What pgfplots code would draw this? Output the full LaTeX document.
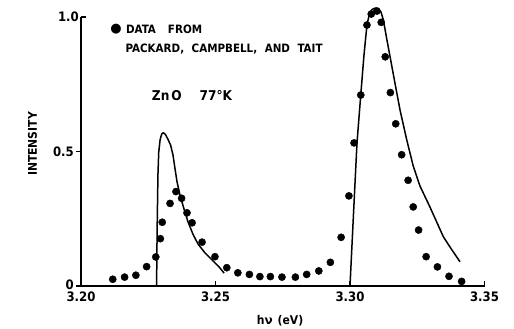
\documentclass[border=0pt]{standalone}
\usepackage{fontspec}
\setmainfont{DejaVu Sans Condensed}
\newfontfamily\symfont{DejaVu Sans}
\usepackage{pgfplots}
\pgfplotsset{compat=1.18}
\begin{document}
\begin{tikzpicture}
\useasboundingbox (0pt,0pt) rectangle (514pt,329pt);
\begin{axis}[
  at={(81pt,43pt)}, anchor=south west,
  scale only axis, width=403.5pt, height=269pt,
  xmin=3.20, xmax=3.35, ymin=0, ymax=1,
  axis lines*=left,
  axis line style={line width=1.3pt},
  xtick={3.20,3.25,3.30,3.35}, xticklabels={3.20,3.25,3.30,3.35},
  ytick={0,0.5}, yticklabels={{\raisebox{3pt}{0}},0.5},
  extra y ticks={1}, extra y tick labels={1.0},
  extra y tick style={ytick align=inside},
  ytick align=outside, xtick align=inside,
  tick style={line width=1.3pt, black},
  major tick length=5pt,
  ticklabel style={font=\bfseries\fontsize{13}{15}\selectfont},
  xticklabel style={inner sep=2pt, yshift=-4pt},
  yticklabel style={inner sep=2pt},
  clip=false,
]
\addplot[only marks, mark=*, mark size=3.6pt, black] coordinates {
(3.2118,0.025) (3.2162,0.033) (3.2204,0.040) (3.2244,0.072) (3.2278,0.108)
(3.2295,0.176) (3.2302,0.237) (3.2331,0.307) (3.2353,0.351) (3.2374,0.326)
(3.2394,0.272) (3.2413,0.235) (3.2450,0.163) (3.2498,0.109) (3.2542,0.068)
(3.2583,0.049) (3.2626,0.043) (3.2665,0.035) (3.2704,0.035) (3.2747,0.033)
(3.2797,0.033) (3.2839,0.043) (3.2884,0.056) (3.2927,0.088) (3.2967,0.181)
(3.2996,0.335) (3.3015,0.532) (3.3040,0.710) (3.3063,0.970) (3.3079,1.011)
(3.3100,1.022) (3.3116,0.980) (3.3131,0.852) (3.3150,0.719) (3.3170,0.603)
(3.3192,0.488) (3.3216,0.393) (3.3235,0.294) (3.3255,0.208) (3.3283,0.109)
(3.3325,0.071) (3.3368,0.036) (3.3415,0.017)
};
\addplot[black, line width=1.5pt, line join=round] coordinates {
(3.2281,0) (3.2283,0.208) (3.2286,0.413) (3.2289,0.498) (3.2294,0.543)
(3.2300,0.565) (3.2306,0.570) (3.2314,0.563) (3.2323,0.546) (3.2333,0.524)
(3.2342,0.487) (3.2349,0.439) (3.2357,0.387) (3.2368,0.338) (3.2383,0.286)
(3.2398,0.238) (3.2416,0.193) (3.2435,0.156) (3.2461,0.123) (3.2491,0.093)
(3.2513,0.071) (3.2532,0.048)
};
\addplot[black, line width=1.5pt, line join=round] coordinates {
(3.3000,0) (3.3013,0.268) (3.3026,0.532) (3.3040,0.710) (3.3052,0.859)
(3.3063,0.970) (3.3072,1.011) (3.3082,1.028) (3.3093,1.033) (3.3104,1.032)
(3.3115,1.019) (3.3124,0.989) (3.3136,0.922) (3.3149,0.852) (3.3167,0.755)
(3.3186,0.654) (3.3211,0.543) (3.3235,0.446) (3.3260,0.372) (3.3297,0.294)
(3.3347,0.183) (3.3379,0.134) (3.3409,0.090)
};
\node[inner sep=0pt, font=\symfont\fontsize{13}{13}\selectfont] at (axis cs:3.2130,0.955) {●};
\node[anchor=base west, font=\bfseries\fontsize{11.5}{13}\selectfont, inner sep=0pt] at (axis cs:3.2167,0.939) {DATA\hspace{12pt}FROM};
\node[anchor=base west, font=\bfseries\fontsize{11.5}{13}\selectfont, inner sep=0pt] at (axis cs:3.2165,0.867) {PACKARD,\hspace{7.5pt}CAMPBELL,\hspace{7.5pt}AND\hspace{7.5pt}TAIT};
\node[anchor=base west, font=\bfseries\fontsize{13.5}{15}\selectfont, inner sep=0pt] at (axis cs:3.2263,0.691) {Zn\hspace{2pt}O\hspace{18pt}77°K};
\node[rotate=90, font=\bfseries\fontsize{12}{14}\selectfont, inner sep=0pt] at (axis cs:3.1820,0.528) {INTENSITY};
\node[font=\bfseries\fontsize{12}{14}\selectfont, inner sep=0pt] at (axis cs:3.2740,-0.130) {h{\symfont ν}\hspace{5pt}(eV)};
\end{axis}
\end{tikzpicture}
\end{document}
